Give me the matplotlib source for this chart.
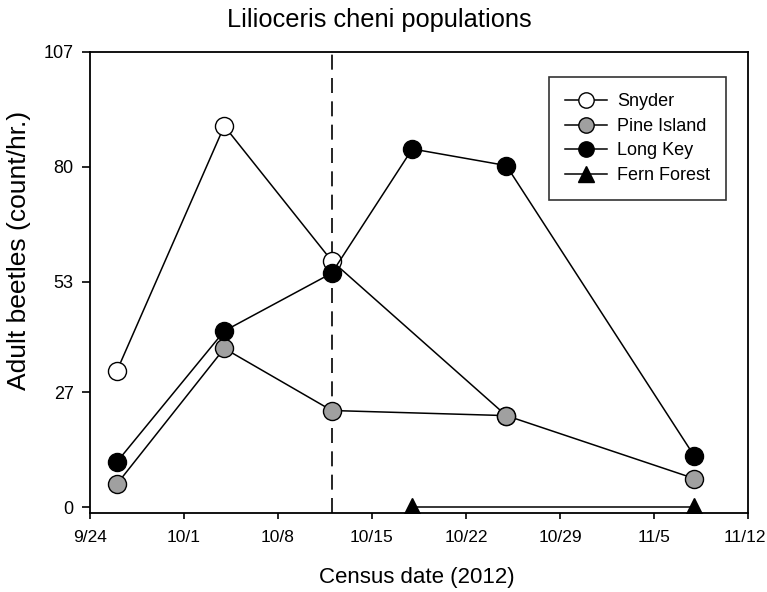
import matplotlib
matplotlib.use("Agg")
import matplotlib.pyplot as plt
import matplotlib.transforms as mtransforms
import datetime as dt

plt.rcParams['font.family'] = ['Liberation Sans', 'DejaVu Sans']

snyder_dates = ["2012-09-26", "2012-10-04", "2012-10-12", "2012-10-25"]
snyder_vals = [32.0, 89.6, 57.9, 21.5]
pine_dates = ["2012-09-26", "2012-10-04", "2012-10-12", "2012-10-25", "2012-11-08"]
pine_vals = [5.4, 37.3, 22.7, 21.5, 6.7]
long_dates = ["2012-09-26", "2012-10-04", "2012-10-12", "2012-10-18", "2012-10-25", "2012-11-08"]
long_vals = [10.6, 41.4, 55.0, 84.2, 80.3, 12.0]
fern_dates = ["2012-10-18", "2012-11-08"]
fern_vals = [0, 0]
vline_date = "2012-10-12"

xtick_dates = ["2012-09-24", "2012-10-01", "2012-10-08", "2012-10-15", "2012-10-22",
               "2012-10-29", "2012-11-05", "2012-11-12"]
xtick_labels = ["9/24", "10/1", "10/8", "10/15", "10/22", "10/29", "11/5", "11/12"]
ytick_vals = [0, 27, 53, 80, 107]


def d(s):
    return [dt.datetime.strptime(x, "%Y-%m-%d") for x in s]


W, H = 767, 592
fig = plt.figure(figsize=(W / 100, H / 100), dpi=100)
ax = fig.add_axes([90 / W, 1 - 513 / H, (748 - 90) / W, (513 - 52) / H])

lw = 1.1
ms = 13
ax.axvline(d([vline_date])[0], color='black', lw=1.2, ls=(0, (9, 5)), zorder=1)
ax.plot(d(snyder_dates), snyder_vals, '-o', color='black', mfc='white', mec='black',
        ms=ms, lw=lw, mew=1.0, label='Snyder', zorder=2)
ax.plot(d(pine_dates), pine_vals, '-o', color='black', mfc='#a0a0a0', mec='black',
        ms=ms, lw=lw, mew=1.0, label='Pine Island', zorder=3)
ax.plot(d(long_dates), long_vals, '-o', color='black', mfc='black', mec='black',
        ms=ms, lw=lw, mew=1.0, label='Long Key', zorder=4)
ax.plot(d(fern_dates), fern_vals, '-^', color='black', mfc='black', mec='black',
        ms=ms, lw=lw, mew=1.0, label='Fern Forest', zorder=5)

ax.set_xlim(d(["2012-09-24"])[0], d(["2012-11-12"])[0])
ax.set_ylim(-1.4, 107)
ax.set_xticks(d(xtick_dates))
ax.set_xticklabels(xtick_labels)
ax.set_yticks(ytick_vals)
ax.tick_params(axis='x', direction='out', length=4.5, width=1.2, labelsize=12.5, pad=8)
ax.tick_params(axis='y', direction='out', length=5.8, width=1.2, labelsize=13, pad=6)
for sp in ax.spines.values():
    sp.set_linewidth(1.3)

# keep last x tick label inside the figure
last = ax.get_xticklabels()[-1]
last.set_transform(last.get_transform() +
                   mtransforms.ScaledTranslation(-3 / 100, 0, fig.dpi_scale_trans))

ax.set_xlabel("Census date (2012)", fontsize=16, va='center')
ax.xaxis.set_label_coords((417 - 90) / 658, (513 - 577) / 461)
ax.set_ylabel("Adult beetles (count/hr.)", fontsize=19, va='center')
ax.yaxis.set_label_coords((19 - 90) / 658, (513 - 250) / 461)

fig.text(379 / W, 1 - 27 / H, "Lilioceris cheni populations",
         ha='center', va='baseline', fontsize=18.3)

leg = ax.legend(loc='upper right', bbox_to_anchor=((726 - 90) / 658, (513 - 77) / 461),
                fontsize=13, frameon=True, fancybox=False, edgecolor='black',
                handlelength=2.3, handletextpad=0.55, markerscale=0.85,
                borderpad=0.9, labelspacing=0.42, borderaxespad=0)
leg.get_frame().set_linewidth(1.2)

fig.savefig("out.png", dpi=100)
